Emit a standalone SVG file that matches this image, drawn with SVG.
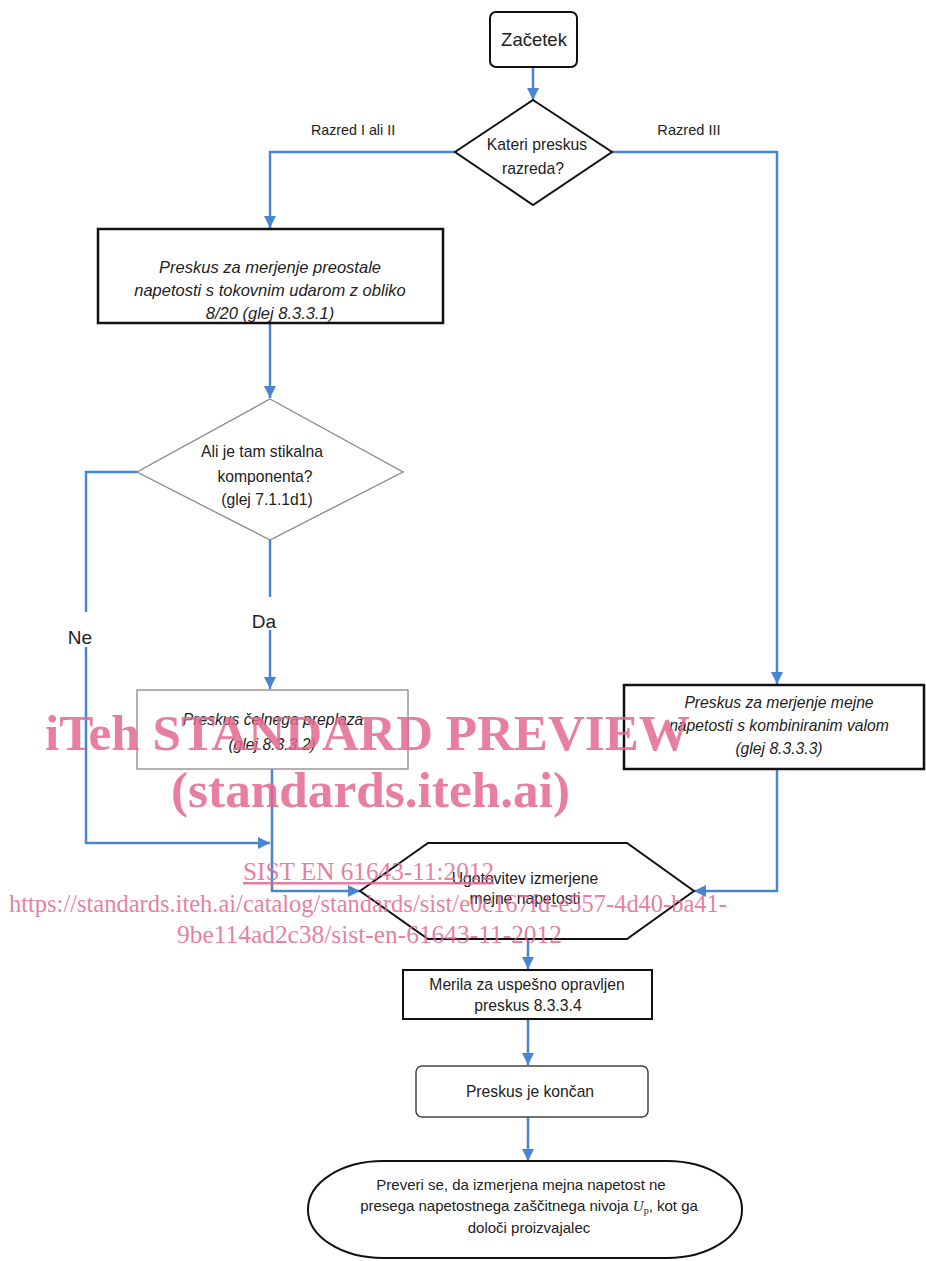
<svg xmlns="http://www.w3.org/2000/svg" width="926" height="1261" viewBox="0 0 926 1261">
<defs>
<marker id="ah" markerUnits="userSpaceOnUse" markerWidth="12" markerHeight="12" refX="12" refY="6" orient="auto">
<path d="M0,0 L12,6 L0,12 z" fill="#4a86d0"/>
</marker>
<style>
.t{font-family:"Liberation Sans",Arial,sans-serif;font-size:15.7px;fill:#222;text-anchor:middle}
.i{font-style:italic}
.b{fill:#fff;stroke:#111;stroke-width:2.5}
.g{fill:#fff;stroke:#888;stroke-width:1.3}
.c{fill:none;stroke:#4a86d0;stroke-width:2.5}
.w{font-family:"Liberation Serif","Times New Roman",serif;fill:#e4678f;fill-opacity:0.85}
</style>
</defs>
<rect width="926" height="1261" fill="#fff"/>
<g id="connectors">
<path class="c" d="M533,67 V100" marker-end="url(#ah)"/>
<path class="c" d="M455,152 H270 V228" marker-end="url(#ah)"/>
<path class="c" d="M612,152 H777 V684" marker-end="url(#ah)"/>
<path class="c" d="M270,323 V398" marker-end="url(#ah)"/>
<path class="c" d="M137,472 H86 V612"/>
<path class="c" d="M86,647 V843 H270" marker-end="url(#ah)"/>
<path class="c" d="M270,540 V597"/>
<path class="c" d="M270,630 V689" marker-end="url(#ah)"/>
<path class="c" d="M272,769 V891 H360" marker-end="url(#ah)"/>
<path class="c" d="M777,769 V891 H694" marker-end="url(#ah)"/>
<path class="c" d="M528,939 V969" marker-end="url(#ah)"/>
<path class="c" d="M528,1019 V1065" marker-end="url(#ah)"/>
<path class="c" d="M528,1117 V1161" marker-end="url(#ah)"/>
<text class="t" x="353" y="135" style="font-size:14.3px">Razred I ali II</text>
<text class="t" x="689" y="135" style="font-size:14.6px">Razred III</text>
<text class="t" x="80" y="644" style="font-size:19px">Ne</text>
<text class="t" x="264" y="628" style="font-size:19px">Da</text>
</g>
<g id="start">
<rect x="490" y="12" width="87" height="55" rx="6" class="b" style="stroke-width:2"/>
<text class="t" x="534" y="46" style="font-size:18.5px">Začetek</text>
</g>
<g id="decision1">
<polygon points="533,100 612,152 533,205 455,152" class="b" style="stroke-width:2"/>
<text class="t" x="537" y="150">Kateri preskus</text>
<text class="t" x="533" y="174">razreda?</text>
</g>
<g id="test8-20">
<rect x="98" y="229" width="345" height="94" class="b"/>
<text class="t i" x="270" y="273" style="font-size:16.5px">Preskus za merjenje preostale</text>
<text class="t i" x="270" y="296" style="font-size:16.5px">napetosti s tokovnim udarom z obliko</text>
<text class="t i" x="270" y="319" style="font-size:16.5px">8/20 (glej 8.3.3.1)</text>
</g>
<g id="decision2">
<polygon points="270,399 403,472 270,540 137,472" class="g"/>
<text class="t" x="262" y="457">Ali je tam stikalna</text>
<text class="t" x="265" y="482">komponenta?</text>
<text class="t" x="267" y="505">(glej  7.1.1d1)</text>
</g>
<g id="frontflash">
<rect x="137" y="690" width="271" height="79" class="g"/>
<text class="t i" x="273" y="725">Preskus čelnega preplaza</text>
<text class="t i" x="272" y="750">(glej 8.3.3.2)</text>
</g>
<g id="combiwave">
<rect x="624" y="685" width="300" height="84" class="b"/>
<text class="t i" x="779" y="708">Preskus za merjenje mejne</text>
<text class="t i" x="779" y="731">napetosti s kombiniranim valom</text>
<text class="t i" x="779" y="754">(glej  8.3.3.3)</text>
</g>
<g id="determine">
<polygon points="360,891 428,843 627,843 694,891 627,939 428,939" class="b" style="stroke-width:2"/>
<text class="t" x="525" y="884">Ugotovitev izmerjene</text>
<text class="t" x="525" y="904">mejne napetosti</text>
</g>
<g id="criteria">
<rect x="403" y="970" width="249" height="49" class="b" style="stroke-width:2"/>
<text class="t" x="527" y="990">Merila za uspešno opravljen</text>
<text class="t" x="528" y="1011">preskus 8.3.3.4</text>
</g>
<g id="done">
<rect x="416" y="1066" width="232" height="51" rx="6" class="b" style="stroke:#444;stroke-width:1.5"/>
<text class="t" x="530" y="1097">Preskus je končan</text>
</g>
<g id="verify">
<rect x="308" y="1161" width="434" height="97" rx="75" ry="48" class="b" style="stroke-width:2"/>
<text class="t" x="521" y="1190" style="font-size:15px">Preveri se, da izmerjena mejna napetost ne</text>
<text class="t" x="529" y="1211" style="font-size:15px">presega napetostnega zaščitnega nivoja <tspan font-family="Liberation Serif,serif" font-style="italic">U</tspan><tspan font-family="Liberation Serif,serif" font-size="10" dy="3">p</tspan><tspan dy="-3">, kot ga</tspan></text>
<text class="t" x="529" y="1233" style="font-size:15px">določi proizvajalec</text>
</g>
<g id="watermark">
<text class="w" x="45" y="750" font-size="50" font-weight="bold" textLength="645" lengthAdjust="spacingAndGlyphs">iTeh STANDARD PREVIEW</text>
<text class="w" x="171" y="807" font-size="50" font-weight="bold" textLength="399" lengthAdjust="spacingAndGlyphs">(standards.iteh.ai)</text>
<text class="w" x="243" y="880" font-size="25" text-decoration="underline" textLength="251" lengthAdjust="spacingAndGlyphs">SIST EN 61643-11:2012</text>
<text class="w" x="9" y="912" font-size="25" textLength="718" lengthAdjust="spacingAndGlyphs">https://standards.iteh.ai/catalog/standards/sist/e0c167fd-e557-4d40-ba41-</text>
<text class="w" x="177" y="943" font-size="25" textLength="385" lengthAdjust="spacingAndGlyphs">9be114ad2c38/sist-en-61643-11-2012</text>
</g>
</svg>
